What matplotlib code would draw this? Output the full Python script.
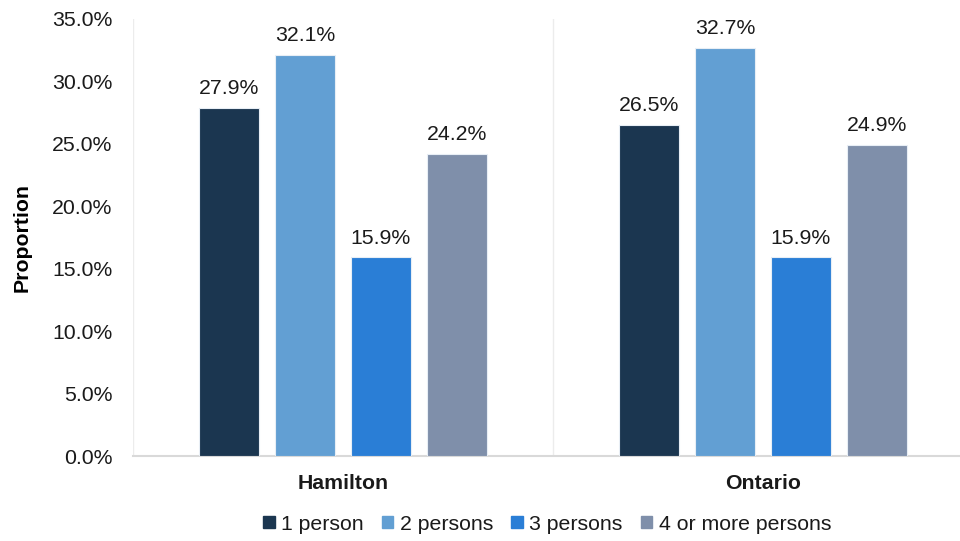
import numpy as np
import matplotlib.pyplot as plt
from matplotlib.patches import Patch
from matplotlib.ticker import FuncFormatter

plt.rcParams['font.family'] = ['Liberation Sans', 'DejaVu Sans']

regions = ['Hamilton', 'Ontario']
sizes = ['1 person', '2 persons', '3 persons', '4 or more persons']
values = {
    '1 person': [27.9, 26.5],
    '2 persons': [32.1, 32.7],
    '3 persons': [15.9, 15.9],
    '4 or more persons': [24.2, 24.9],
}
colors = ['#1b3650', '#629fd3', '#2a7ed6', '#7f8faa']
fs = 15.3

fig = plt.figure(figsize=(9.6, 5.41), dpi=100)
ax = fig.add_axes([133 / 960, (541 - 456) / 541, (960 - 133) / 960, (456 - 19) / 541])

x = np.arange(len(regions))
step = 76 / 420
width = 60 / 420
for i, s in enumerate(sizes):
    pos = x + (i - 1.5) * step
    bars = ax.bar(pos, values[s], width, color=colors[i], edgecolor='#e8eef5',
                  linewidth=0.8, label=s, zorder=3)
    for b, v in zip(bars, values[s]):
        ax.annotate(f'{v:.1f}%', (b.get_x() + b.get_width() / 2, v),
                    xytext=(0, 7), textcoords='offset points',
                    ha='center', va='bottom', fontsize=fs, color='#1a1a1a')

ax.set_ylim(0, 35)
ax.set_yticks(np.arange(0, 36, 5))
ax.yaxis.set_major_formatter(FuncFormatter(lambda v, p: f'{v:.1f}%'))
ax.set_xlim(-0.5, 1.5 - 13 / 420)
ax.set_xticks(x)
ax.set_xticklabels(regions, fontweight='bold', fontsize=fs)

# category separators
for sep in [-0.5, 0.5, 1.5]:
    ax.axvline(sep, color='#ececec', linewidth=1, zorder=1)

for sp in ['top', 'right', 'left']:
    ax.spines[sp].set_visible(False)
ax.spines['bottom'].set_color('#d9d9d9')
ax.spines['bottom'].set_linewidth(1.5)
ax.tick_params(axis='both', length=0, labelsize=fs, colors='#1a1a1a')
ax.tick_params(axis='y', pad=15)
ax.tick_params(axis='x', pad=13)

ax.set_ylabel('Proportion', fontweight='bold', fontsize=fs)
ax.yaxis.set_label_coords(-0.1225, 0.5)

handles = [Patch(color=c, label=s) for c, s in zip(colors, sizes)]
fig.legend(handles=handles, loc='center', bbox_to_anchor=(0.570, (541 - 524) / 541),
           ncol=4, frameon=False, fontsize=fs, handlelength=0.55, handleheight=0.55,
           handletextpad=0.3, columnspacing=0.85, labelcolor='#1a1a1a')

fig.savefig('out.png', dpi=100)
